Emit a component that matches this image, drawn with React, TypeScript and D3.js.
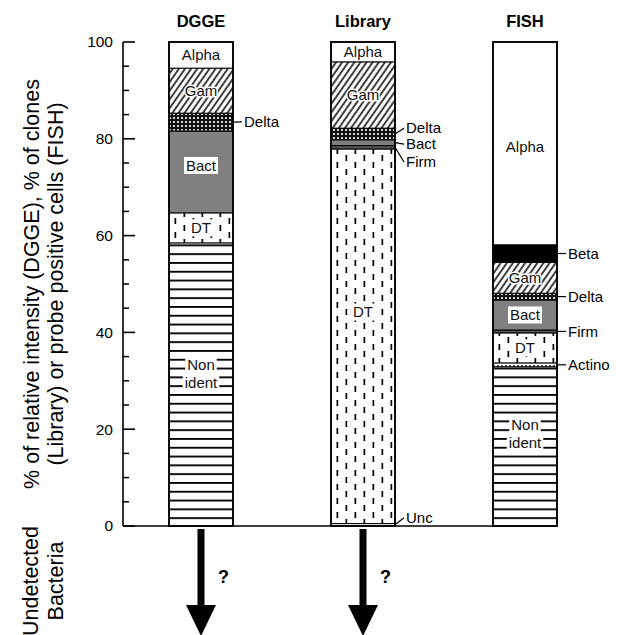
import React from 'react';
import * as d3 from 'd3';

// bars and their stacked parts, bottom to top (% values)
const groups = ['DGGE', 'Library', 'FISH'];
const dggeParts = ['Non ident', 'DT', 'Bact', 'Delta', 'Gam', 'Alpha'];
const dggeValues = [58.5, 6.2, 16.9, 3.7, 9.3, 5.4];
const libraryParts = ['Unc', 'DT', 'Firm', 'Bact', 'Delta', 'Gam', 'Alpha'];
const libraryValues = [0.5, 77.4, 0.7, 1.2, 2.4, 13.7, 4.1];
const fishParts = ['Non ident', 'Actino', 'DT', 'Firm', 'Bact', 'Delta', 'Gam', 'Beta', 'Alpha'];
const fishValues = [32.9, 0.8, 6.2, 0.6, 6.2, 1.4, 6.4, 3.6, 41.9];

// parts labelled beside the bar, with the % level where the label sits
const outsideLabels = [
  { group: 'DGGE', part: 'Delta', at: 83.5 },
  { group: 'Library', part: 'Delta', at: 82.2 },
  { group: 'Library', part: 'Bact', at: 78.9 },
  { group: 'Library', part: 'Firm', at: 75.2 },
  { group: 'Library', part: 'Unc', at: 1.7 },
  { group: 'FISH', part: 'Beta', at: 56.3 },
  { group: 'FISH', part: 'Delta', at: 47.4 },
  { group: 'FISH', part: 'Firm', at: 40.2 },
  { group: 'FISH', part: 'Actino', at: 33.3 },
];
// inside labels that are not at the middle of their part
const insideLabelAt = [
  { group: 'DGGE', part: 'Bact', at: 74.5 },
  { group: 'DGGE', part: 'Non ident', at: 31.5 },
  { group: 'Library', part: 'DT', at: 44.2 },
  { group: 'FISH', part: 'Alpha', at: 78.3 },
  { group: 'FISH', part: 'Non ident', at: 19 },
];
const yTicks = [0, 20, 40, 60, 80, 100];
const undetectedGroups = ['DGGE', 'Library'];

const fills: Record<string, string> = {
  Alpha: '#fff',
  Beta: '#000',
  Gam: 'url(#hatch)',
  Delta: 'url(#checker)',
  Bact: '#808080',
  Firm: '#555',
  DT: 'url(#dt)',
  Actino: 'url(#dots)',
  'Non ident': 'url(#hlines)',
  Unc: '#fff',
};
const boxed = ['Bact', 'DT', 'Non ident'];

const FONT = '"Liberation Sans", Arial, Helvetica, sans-serif';

let ctx: CanvasRenderingContext2D | null = null;
const textWidth = (s: string, size: number) => {
  if (!ctx) ctx = document.createElement('canvas').getContext('2d');
  if (!ctx) return s.length * size * 0.55;
  ctx.font = `${size}px "Liberation Sans", Arial, sans-serif`;
  return ctx.measureText(s).width;
};

const App = () => {
  const W = 622;
  const H = 635;
  const barW = 64;
  const labelSize = 15;

  const y = d3.scaleLinear().domain([0, 100]).range([526, 42]);
  const x = d3.scalePoint<string>().domain(groups).range([201, 525]);
  const axisX = 123;

  const data: Record<string, { parts: string[]; values: number[] }> = {
    DGGE: { parts: dggeParts, values: dggeValues },
    Library: { parts: libraryParts, values: libraryValues },
    FISH: { parts: fishParts, values: fishValues },
  };

  const bars = groups.map((g) => {
    const { parts, values } = data[g];
    const cum = d3.cumsum(values);
    const segs = parts.map((p, i) => ({
      name: p,
      lo: i === 0 ? 0 : cum[i - 1],
      hi: cum[i],
    }));
    return { group: g, cx: x(g) as number, segs };
  });

  const minorTicks = d3.range(0, 101, 5).filter((v) => v % 20 !== 0);

  return (
    <svg
      width={W}
      height={H}
      style={{ position: 'absolute', left: 0, top: 0, background: '#fff' }}
      fontFamily={FONT}
    >
      <defs>
        <pattern id="hatch" width={5} height={5} patternUnits="userSpaceOnUse" patternTransform="rotate(35)">
          <rect width={5} height={5} fill="#fff" />
          <line x1={1} y1={0} x2={1} y2={5} stroke="#000" strokeWidth={1.5} />
        </pattern>
        <pattern id="checker" width={4} height={4} patternUnits="userSpaceOnUse">
          <rect width={4} height={4} fill="#111" />
          <circle cx={2} cy={2} r={1.1} fill="#fff" />
        </pattern>
        <pattern id="dt" width={18} height={14} patternUnits="userSpaceOnUse">
          <rect width={18} height={14} fill="#fff" />
          <rect x={3.5} y={1} width={1.7} height={6} fill="#000" />
          <rect x={12.5} y={8} width={1.7} height={6} fill="#000" />
        </pattern>
        <pattern id="dots" width={4} height={4} patternUnits="userSpaceOnUse">
          <rect width={4} height={4} fill="#fff" />
          <circle cx={2} cy={2} r={0.9} fill="#000" />
        </pattern>
        <pattern id="hlines" width={10} height={8.8} patternUnits="userSpaceOnUse" y={526}>
          <rect width={10} height={8.8} fill="#fff" />
          <line x1={0} y1={0.9} x2={10} y2={0.9} stroke="#000" strokeWidth={1.9} />
        </pattern>
      </defs>

      {/* y axis */}
      <line x1={axisX} x2={axisX} y1={y(100)} y2={y(0)} stroke="#000" strokeWidth={1.6} />
      {yTicks.map((t) => (
        <g key={t}>
          <line x1={axisX} x2={axisX + 12} y1={y(t)} y2={y(t)} stroke="#000" strokeWidth={1.6} />
          <text x={axisX - 10} y={y(t)} dy="0.35em" textAnchor="end" fontSize={15.5}>
            {t}
          </text>
        </g>
      ))}
      {minorTicks.map((t) => (
        <line key={t} x1={axisX} x2={axisX + 6} y1={y(t)} y2={y(t)} stroke="#000" strokeWidth={1.5} />
      ))}
      <line x1={axisX} x2={(x('FISH') as number) + barW / 2} y1={y(0)} y2={y(0)} stroke="#000" strokeWidth={1.6} />

      {/* y axis title */}
      <g transform={`translate(39, ${(y(0) + y(100)) / 2}) rotate(-90)`}>
        <text textAnchor="middle" fontSize={21.5}>% of relative intensity (DGGE), % of clones</text>
      </g>
      <g transform={`translate(63, ${(y(0) + y(100)) / 2}) rotate(-90)`}>
        <text textAnchor="middle" fontSize={21.5}>(Library) or probe positive cells (FISH)</text>
      </g>
      <g transform="translate(38, 581) rotate(-90)">
        <text textAnchor="middle" fontSize={21.5}>Undetected</text>
      </g>
      <g transform="translate(63, 581) rotate(-90)">
        <text textAnchor="middle" fontSize={21.5}>Bacteria</text>
      </g>

      {/* bars */}
      {bars.map((b) => {
        const x0 = b.cx - barW / 2;
        return (
          <g key={b.group}>
            <text x={b.cx} y={27} textAnchor="middle" fontWeight="bold" fontSize={16.5}>
              {b.group}
            </text>
            {b.segs.map((s) => (
              <rect
                key={s.name}
                x={x0}
                width={barW}
                y={y(s.hi)}
                height={y(s.lo) - y(s.hi)}
                fill={fills[s.name]}
                stroke="#000"
                strokeWidth={1}
              />
            ))}
            <rect x={x0} y={y(100)} width={barW} height={y(0) - y(100)} fill="none" stroke="#000" strokeWidth={1.8} />
            {b.segs
              .filter((s) => !outsideLabels.some((o) => o.group === b.group && o.part === s.name))
              .map((s) => {
                const over = insideLabelAt.find((o) => o.group === b.group && o.part === s.name);
                const at = over ? over.at : (s.lo + s.hi) / 2;
                const lines = s.name === 'Non ident' ? ['Non', 'ident'] : [s.name];
                const lh = 18;
                return (
                  <g key={s.name + '-l'}>
                    {lines.map((ln, i) => {
                      const cy = y(at) + (i - (lines.length - 1) / 2) * lh;
                      const w = textWidth(ln, labelSize);
                      return (
                        <g key={ln}>
                          {boxed.includes(s.name) && (
                            <rect x={b.cx - w / 2 - 2} y={cy - 8.5} width={w + 4} height={17} fill="#fff" />
                          )}
                          <text
                            x={b.cx}
                            y={cy}
                            dy="0.35em"
                            textAnchor="middle"
                            fontSize={labelSize}
                            fill="#111"
                            stroke={s.name === 'Gam' ? '#fff' : 'none'}
                            strokeWidth={s.name === 'Gam' ? 3 : 0}
                            paintOrder="stroke"
                          >
                            {ln}
                          </text>
                        </g>
                      );
                    })}
                  </g>
                );
              })}
          </g>
        );
      })}

      {/* labels beside the bars */}
      {outsideLabels.map((o) => {
        const b = bars.find((d) => d.group === o.group)!;
        const s = b.segs.find((d) => d.name === o.part)!;
        const xr = b.cx + barW / 2;
        return (
          <g key={o.group + o.part}>
            <line x1={xr} y1={y((s.lo + s.hi) / 2)} x2={xr + 9} y2={y(o.at)} stroke="#000" strokeWidth={1.2} />
            <text x={xr + 11} y={y(o.at)} dy="0.35em" fontSize={labelSize}>
              {o.part}
            </text>
          </g>
        );
      })}

      {/* undetected arrows */}
      {undetectedGroups.map((g) => {
        const cx = x(g) as number;
        return (
          <g key={g}>
            <rect x={cx - 3.5} y={529} width={7} height={78} fill="#000" />
            <path d={`M${cx - 15},605 L${cx + 15},605 L${cx},636 Z`} fill="#000" />
            <text x={cx + 17} y={577} dy="0.35em" fontWeight="bold" fontSize={18}>
              ?
            </text>
          </g>
        );
      })}
    </svg>
  );
};

export default App;
